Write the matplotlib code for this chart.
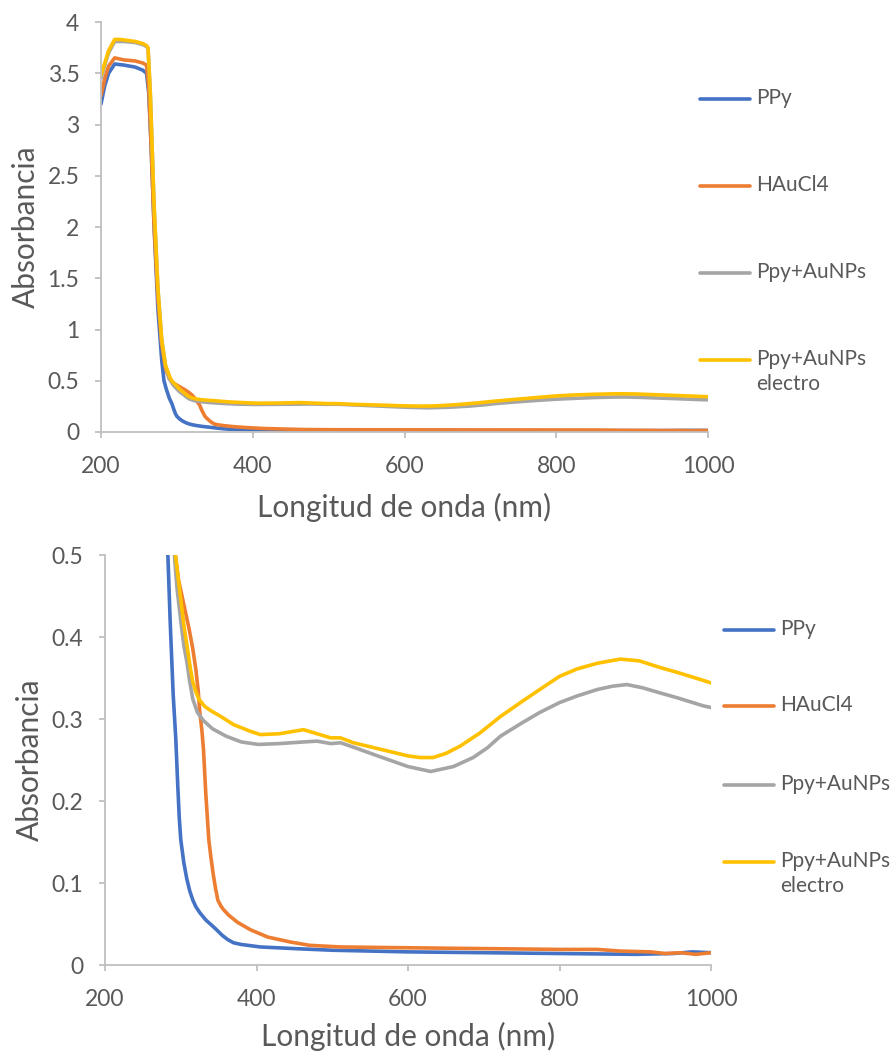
import matplotlib
matplotlib.use('Agg')
import matplotlib.pyplot as plt
from matplotlib.lines import Line2D

plt.rcParams['font.family'] = ['Lato', 'DejaVu Sans']

# UV-Vis spectra (wavelength in nm, absorbance)
wl_ppy = [200, 205, 210, 218, 230, 245, 255, 260, 263, 266, 270, 275, 280, 283, 286,
          290, 293.5, 296, 298, 300, 304, 308, 312, 316, 320, 325, 333, 345, 355, 362,
          370, 380, 405, 450, 500, 600, 700, 800, 900, 950, 975, 1000]
abs_ppy = [3.20, 3.38, 3.50, 3.59, 3.58, 3.56, 3.53, 3.50, 3.30, 2.80, 2.00, 1.20, 0.70,
           0.50, 0.42, 0.33, 0.275, 0.22, 0.18, 0.153, 0.125, 0.105, 0.090, 0.079, 0.071,
           0.064, 0.055, 0.045, 0.036, 0.031, 0.027, 0.025, 0.022, 0.020, 0.018, 0.016,
           0.015, 0.014, 0.013, 0.014, 0.016, 0.015]

wl_hau = [200, 205, 210, 218, 230, 245, 255, 260, 263, 266, 270, 275, 280, 285, 290,
          297, 304, 311, 316, 320, 323, 325, 328, 330, 333, 337, 340, 343, 346, 349, 353,
          356, 363, 375, 392, 415, 445, 470, 511, 600, 700, 800, 850, 880, 920, 940, 960,
          980, 1000]
abs_hau = [3.28, 3.45, 3.57, 3.65, 3.63, 3.62, 3.60, 3.58, 3.35, 2.80, 2.00, 1.30, 0.85,
           0.62, 0.52, 0.47, 0.44, 0.41, 0.385, 0.36, 0.335, 0.31, 0.285, 0.263, 0.21,
           0.153, 0.13, 0.110, 0.093, 0.079, 0.072, 0.068, 0.061, 0.052, 0.043, 0.034,
           0.028, 0.024, 0.022, 0.021, 0.020, 0.019, 0.019, 0.017, 0.016, 0.014, 0.015,
           0.013, 0.015]

wl_np = [200, 205, 210, 218, 230, 245, 255, 260, 262, 265, 270, 275, 280, 285, 290, 295,
         300, 304, 308, 312, 316, 322, 330, 342, 360, 380, 402, 430, 462, 480, 498, 511,
         530, 560, 600, 630, 660, 686, 705, 722, 750, 774, 800, 823, 850, 870, 889, 910,
         932, 955, 976, 990, 1000]
abs_np = [3.45, 3.58, 3.70, 3.81, 3.81, 3.80, 3.78, 3.76, 3.74, 3.30, 2.20, 1.40, 0.90,
          0.65, 0.52, 0.46, 0.42, 0.39, 0.37, 0.345, 0.324, 0.308, 0.298, 0.288, 0.279,
          0.272, 0.269, 0.270, 0.272, 0.273, 0.270, 0.271, 0.265, 0.255, 0.242, 0.236,
          0.242, 0.253, 0.265, 0.279, 0.295, 0.308, 0.320, 0.328, 0.336, 0.340, 0.342,
          0.338, 0.332, 0.326, 0.320, 0.316, 0.314]

wl_el = [200, 205, 210, 218, 225, 235, 245, 255, 260, 262, 265, 270, 275, 280, 285, 290,
         293, 300, 304, 309, 313, 316, 320, 324, 332, 340, 353, 370, 392, 405, 430, 462,
         480, 498, 511, 528, 564, 600, 616, 633, 650, 669, 695, 722, 750, 774, 800, 823,
         850, 880, 905, 932, 955, 976, 990, 1000]
abs_el = [3.48, 3.60, 3.72, 3.83, 3.83, 3.82, 3.81, 3.79, 3.77, 3.75, 3.30, 2.20, 1.40,
          0.90, 0.65, 0.55, 0.50, 0.446, 0.415, 0.385, 0.36, 0.345, 0.333, 0.324, 0.315,
          0.310, 0.303, 0.293, 0.285, 0.281, 0.282, 0.287, 0.282, 0.277, 0.277, 0.271,
          0.263, 0.255, 0.253, 0.253, 0.258, 0.267, 0.283, 0.303, 0.321, 0.336, 0.352,
          0.361, 0.368, 0.373, 0.371, 0.363, 0.357, 0.351, 0.347, 0.344]

labels = ['PPy', 'HAuCl4', 'Ppy+AuNPs', 'Ppy+AuNPs\nelectro']
colors = ['#4472C4', '#ED7D31', '#A5A5A5', '#FFC000']
series = [(wl_ppy, abs_ppy), (wl_hau, abs_hau), (wl_np, abs_np), (wl_el, abs_el)]

top_yticks = [0, 0.5, 1, 1.5, 2, 2.5, 3, 3.5, 4]
top_ylabels = ['0', '0.5', '1', '1.5', '2', '2.5', '3', '3.5', '4']
bot_yticks = [0, 0.1, 0.2, 0.3, 0.4, 0.5]
bot_ylabels = ['0', '0.1', '0.2', '0.3', '0.4', '0.5']
xticks = [200, 400, 600, 800, 1000]

txt = '#595959'
axc = '#BFBFBF'
W, H = 893, 1054

fig = plt.figure(figsize=(W / 100, H / 100), dpi=100)


def make_axes(rect, yticks, ylabels, ymax, xlab_y):
    ax = fig.add_axes(rect)
    for (x, y), c in zip(series, colors):
        ax.plot(x, y, color=c, linewidth=2.6, solid_capstyle='round',
                solid_joinstyle='round')
    ax.set_xlim(200, 1000)
    ax.set_ylim(0, ymax)
    ax.set_xticks(xticks)
    ax.set_xticklabels([str(t) for t in xticks])
    ax.set_yticks(yticks)
    ax.set_yticklabels(ylabels)
    for s in ['top', 'right']:
        ax.spines[s].set_visible(False)
    for s in ['left', 'bottom']:
        ax.spines[s].set_color(axc)
        ax.spines[s].set_linewidth(1.3)
    ax.tick_params(axis='both', colors=axc, labelcolor=txt, labelsize=16.5,
                   length=4.5, width=1.3, direction='out')
    ax.tick_params(axis='x', pad=13)
    ax.tick_params(axis='y', pad=11)
    ax.set_xlabel('Longitud de onda (nm)', fontsize=21.5, color=txt)
    ax.set_ylabel('Absorbancia', fontsize=21.5, color=txt)
    ax.xaxis.set_label_coords(0.5, xlab_y)
    ax.yaxis.set_label_coords(-0.10, 0.5)
    return ax


def legend_at(x0, x1, xt, ys):
    for lab, c, y in zip(labels, colors, ys):
        fy = 1 - y / H
        fig.add_artist(Line2D([x0 / W, x1 / W], [fy, fy], color=c, linewidth=2.6,
                              solid_capstyle='round', transform=fig.transFigure))
        fig.text(xt / W, fy + 11 / H, lab, fontsize=15, color=txt, ha='left', va='top',
                 linespacing=1.3, transform=fig.transFigure)


ax1 = make_axes([101 / W, 1 - 432 / H, 607 / W, 410 / H], top_yticks, top_ylabels, 4, -0.148)
ax2 = make_axes([105 / W, 1 - 965 / H, 606 / W, 410 / H], bot_yticks, bot_ylabels, 0.5, -0.138)

legend_at(700, 750, 756, [99, 186, 273, 360])
legend_at(724, 774, 780, [630, 706, 785, 862])

fig.savefig('out.png', dpi=100)
